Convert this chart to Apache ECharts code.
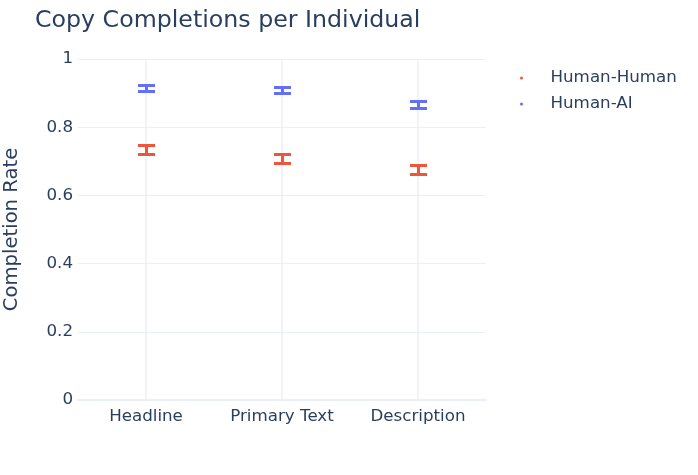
<!DOCTYPE html>
<html>
<head>
<meta charset="utf-8">
<script src="https://cdn.jsdelivr.net/npm/echarts@6/dist/echarts.min.js"></script>
<style>
  html, body { margin: 0; padding: 0; background: #fff; }
  #chart { width: 698px; height: 475px; }
</style>
</head>
<body>
<div id="chart"></div>
<script>
// categories and values
const categories = ['Headline', 'Primary Text', 'Description'];
const humanHumanMean = [0.732, 0.707, 0.674];
const humanHumanErr = [0.013, 0.014, 0.014];
const humanAiMean = [0.914, 0.908, 0.866];
const humanAiErr = [0.008, 0.008, 0.010];
const yTicks = [0, 0.2, 0.4, 0.6, 0.8, 1];

const textColor = '#2a3f5f';
const gridColor = '#ebf0f8';
const red = '#EF553B';
const blue = '#636EFA';
const font = 'DejaVu Sans';

function errorData(mean, err) {
  return mean.map((m, i) => [i, m - err[i], m + err[i]]);
}

// snap to pixel centres so the 3px strokes stay crisp
function px(v) { return Math.round(v - 0.5) + 0.5; }

function errorBars(color) {
  return function (params, api) {
    const x = api.value(0);
    const lo = api.coord([x, api.value(1)]);
    const hi = api.coord([x, api.value(2)]);
    const cx = px(lo[0]);
    const y1 = px(lo[1]);
    const y2 = px(hi[1]);
    const hw = 8.5;
    const style = { stroke: color, lineWidth: 3, lineCap: 'butt' };
    return {
      type: 'group',
      children: [
        { type: 'line', z2: 10, shape: { x1: cx, y1: y1, x2: cx, y2: y2 }, style: style },
        { type: 'line', z2: 10, shape: { x1: cx - hw, y1: y1, x2: cx + hw, y2: y1 }, style: style },
        { type: 'line', z2: 10, shape: { x1: cx - hw, y1: y2, x2: cx + hw, y2: y2 }, style: style }
      ]
    };
  };
}

const chart = echarts.init(document.getElementById('chart'));

const option = {
  animation: false,
  backgroundColor: '#fff',
  textStyle: { fontFamily: font },
  title: {
    text: 'Copy Completions per Individual',
    left: 30,
    top: 4,
    textStyle: { color: textColor, fontSize: 23.7, fontWeight: 'normal', fontFamily: font }
  },
  legend: {
    orient: 'vertical',
    left: 515,
    top: 64,
    icon: 'circle',
    itemWidth: 48,
    itemHeight: 3,
    itemGap: 8,
    data: ['Human-Human', 'Human-AI'],
    textStyle: { color: textColor, fontSize: 16.7, fontFamily: font, lineHeight: 18 }
  },
  grid: { left: 78, right: 212, top: 59, bottom: 75, outerBoundsMode: 'none', containLabel: false },
  xAxis: {
    type: 'category',
    data: categories,
    boundaryGap: true,
    axisLine: { show: true, lineStyle: { color: gridColor, width: 2 } },
    axisTick: { show: false },
    splitLine: { show: false },
    axisLabel: { color: textColor, fontSize: 16.7, fontFamily: font, margin: 8 }
  },
  yAxis: {
    type: 'value',
    min: 0,
    max: 1,
    interval: 0.2,
    name: 'Completion Rate',
    nameLocation: 'middle',
    nameGap: 56,
    nameTextStyle: { color: textColor, fontSize: 19.6, fontFamily: font },
    axisLine: { show: false },
    axisTick: { show: false },
    splitLine: { show: true, lineStyle: { color: gridColor, width: 1 } },
    axisLabel: {
      color: textColor, fontSize: 16.7, fontFamily: font, margin: 5,
      formatter: v => yTicks.includes(Math.round(v * 10) / 10) ? String(Math.round(v * 10) / 10) : ''
    }
  },
  series: [
    {
      name: 'grid',
      type: 'custom',
      silent: true,
      data: [],
      renderItem: () => null,
      z: -1,
      markLine: {
        silent: true,
        z: -1,
        symbol: 'none',
        label: { show: false },
        lineStyle: { color: gridColor, width: 1.5, type: 'solid' },
        data: categories.map(c => ({ xAxis: c }))
      }
    },
    {
      name: 'Human-Human',
      type: 'scatter',
      data: humanHumanMean.map((m, i) => [i, m]),
      symbolSize: 2,
      itemStyle: { color: red, opacity: 1 },
      z: 6
    },
    {
      name: 'Human-AI',
      type: 'scatter',
      data: humanAiMean.map((m, i) => [i, m]),
      symbolSize: 2,
      itemStyle: { color: blue, opacity: 1 },
      z: 6
    },
    {
      name: 'hh-err',
      type: 'custom',
      data: errorData(humanHumanMean, humanHumanErr),
      renderItem: errorBars(red),
      encode: { x: 0, y: [1, 2] },
      z: 5
    },
    {
      name: 'ha-err',
      type: 'custom',
      data: errorData(humanAiMean, humanAiErr),
      renderItem: errorBars(blue),
      encode: { x: 0, y: [1, 2] },
      z: 5
    }
  ]
};

chart.setOption(option);
</script>
</body>
</html>
